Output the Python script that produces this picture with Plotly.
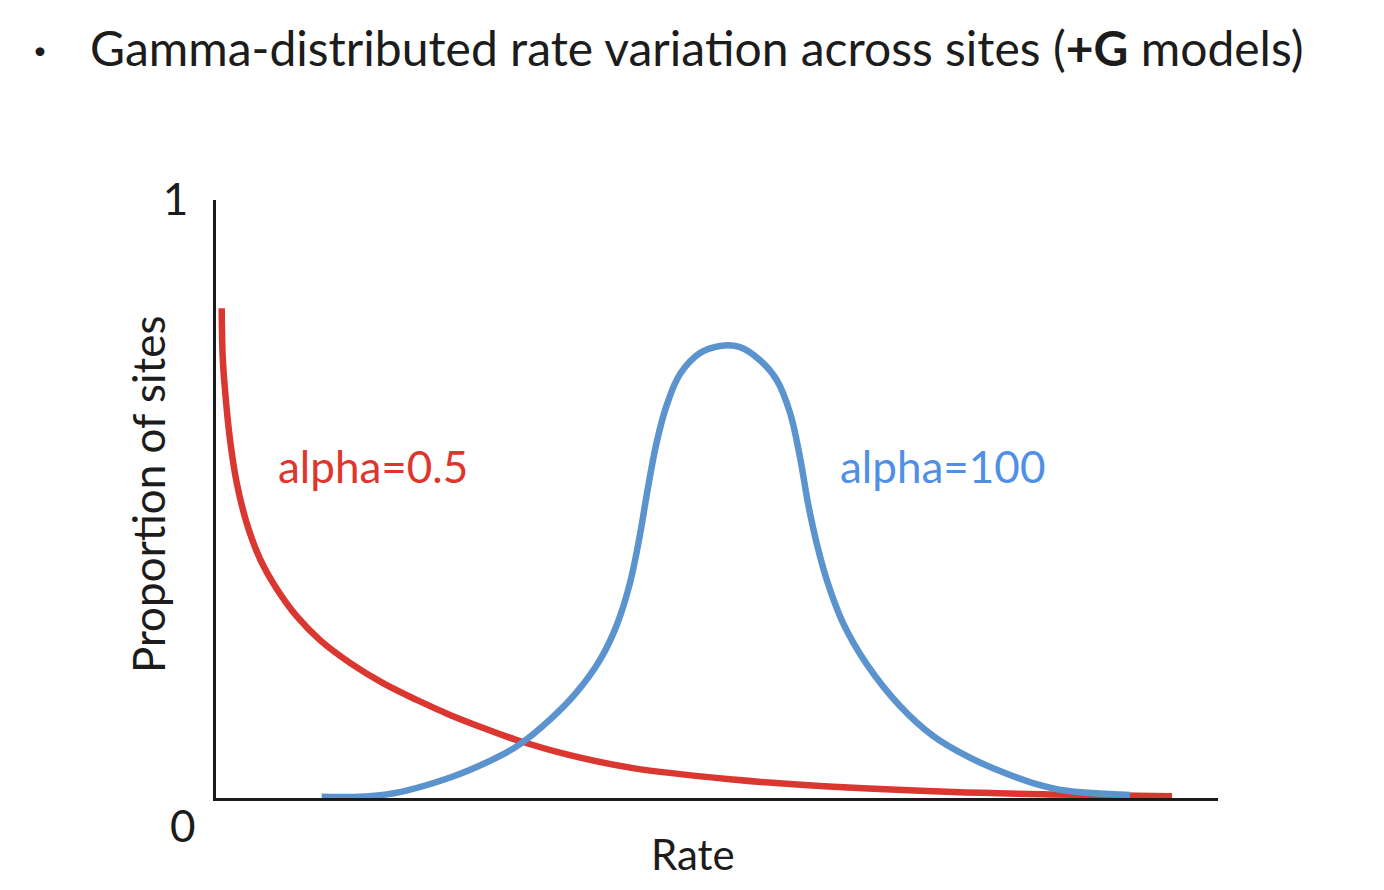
import plotly.graph_objects as go

# Red curve: alpha = 0.5 (rate, proportion of sites)
red_x = [0.057, 0.067, 0.090, 0.140, 0.207, 0.306, 0.439, 0.606, 0.805, 1.038, 1.337, 1.667,
         2.003, 2.335, 2.702, 3.001, 3.500, 4.162, 5.160, 6.028, 7.355, 8.323, 9.541]
red_y = [0.819, 0.737, 0.682, 0.599, 0.527, 0.460, 0.400, 0.350, 0.304, 0.264, 0.226, 0.192,
         0.164, 0.139, 0.115, 0.097, 0.073, 0.050, 0.031, 0.020, 0.010, 0.006, 0.003]

# Blue curve: alpha = 100
blue_x = [1.055, 1.704, 2.365, 2.864, 3.034, 3.333, 3.600, 3.832, 3.999, 4.132, 4.232, 4.311,
          4.398, 4.498, 4.631, 4.830, 5.030, 5.230, 5.429, 5.596, 5.729, 5.828, 5.908, 5.995,
          6.095, 6.257, 6.494, 6.826, 7.156, 7.495, 7.824, 8.154, 8.493, 9.122]
blue_y = [0.002, 0.006, 0.036, 0.073, 0.090, 0.131, 0.177, 0.231, 0.289, 0.360, 0.441, 0.519,
          0.595, 0.657, 0.709, 0.744, 0.756, 0.754, 0.732, 0.699, 0.644, 0.570, 0.493, 0.426,
          0.365, 0.293, 0.224, 0.154, 0.104, 0.070, 0.045, 0.025, 0.012, 0.005]

y_tick_vals = [1]
y_tick_text = ["1"]

RED = "#d9372f"
BLUE = "#5b93cf"
TXT = "#1c1c1c"
FONT = "Lato"

fig = go.Figure()
fig.add_trace(go.Scatter(x=red_x, y=red_y, mode="lines",
                         line=dict(color=RED, width=6.5, shape="spline", smoothing=1.0),
                         hoverinfo="skip"))
fig.add_trace(go.Scatter(x=blue_x, y=blue_y, mode="lines",
                         line=dict(color=BLUE, width=6.5, shape="spline", smoothing=1.0),
                         hoverinfo="skip"))

fig.update_layout(
    width=1368, height=874,
    margin=dict(l=208, r=158, t=192, b=84),
    paper_bgcolor="white", plot_bgcolor="white",
    showlegend=False,
    font=dict(family=FONT, color=TXT),
    xaxis=dict(range=[0, 10], showline=True, linecolor="#1a1a1a", linewidth=3,
               showgrid=False, zeroline=False, showticklabels=False, ticks=""),
    yaxis=dict(range=[0, 1], showline=True, linecolor="#1a1a1a", linewidth=3,
               showgrid=False, zeroline=False, tickvals=y_tick_vals, ticktext=y_tick_text,
               ticks="", ticklabelstandoff=16,
               tickfont=dict(size=44, family=FONT, color=TXT)),
)

# "0" label below the origin
fig.add_annotation(xref="paper", yref="paper", x=(183 - 216) / 1002, y=(798 - 825) / 598,
                   text="0", showarrow=False, font=dict(size=44, family=FONT, color=TXT),
                   xanchor="center", yanchor="middle")
# axis titles
fig.add_annotation(xref="paper", yref="paper", x=(693 - 216) / 1002, y=(798 - 854) / 598,
                   text="Rate", showarrow=False, font=dict(size=42, family=FONT, color=TXT),
                   xanchor="center", yanchor="middle")
fig.add_annotation(xref="paper", yref="paper", x=(148 - 216) / 1002, y=(798 - 495) / 598,
                   text="Proportion of sites", textangle=-90, showarrow=False,
                   font=dict(size=44, family=FONT, color=TXT),
                   xanchor="center", yanchor="middle")
# heading
fig.add_annotation(xref="paper", yref="paper", x=(40 - 216) / 1002, y=(798 - 50) / 598,
                   text="•", showarrow=False, font=dict(size=24, family=FONT, color=TXT),
                   xanchor="center", yanchor="middle")
fig.add_annotation(xref="paper", yref="paper", x=(88 - 216) / 1002, y=(798 - 48) / 598,
                   text="Gamma-distributed rate variation across sites (<b>+G</b> models)",
                   showarrow=False, font=dict(size=48, family=FONT, color=TXT),
                   xanchor="left", yanchor="middle")
# curve labels
fig.add_annotation(x=(373 - 216) / 100.2, y=(798 - 466) / 598, text="alpha=0.5",
                   showarrow=False, font=dict(size=44, family=FONT, color="#e0352c"),
                   xanchor="center", yanchor="middle")
fig.add_annotation(x=(942 - 216) / 100.2, y=(798 - 466) / 598, text="alpha=100",
                   showarrow=False, font=dict(size=44, family=FONT, color="#4f8fe6"),
                   xanchor="center", yanchor="middle")

fig.write_html("out.html")
